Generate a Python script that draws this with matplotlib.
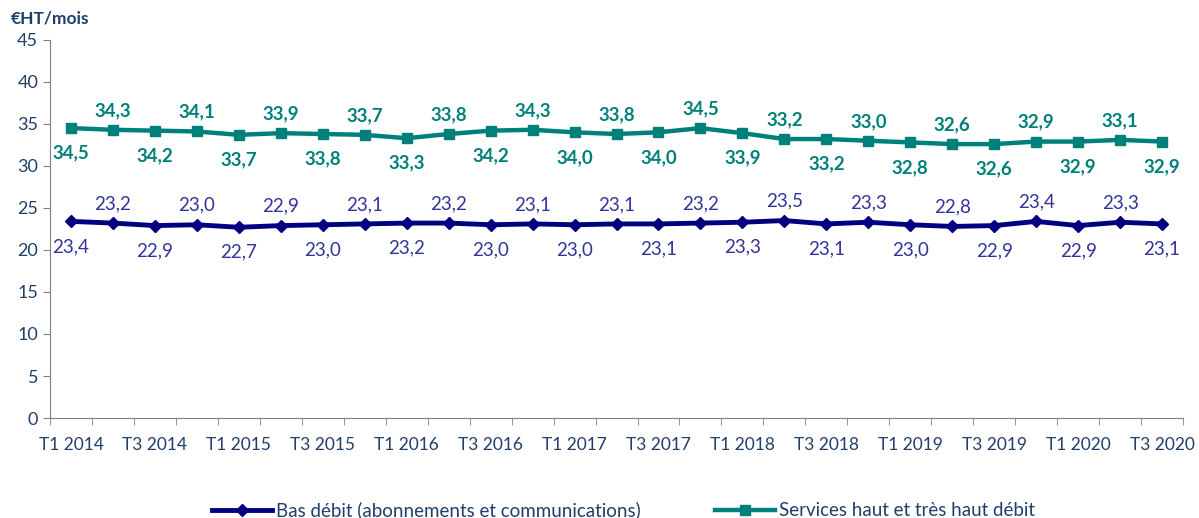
import matplotlib
matplotlib.use("Agg")
import matplotlib.pyplot as plt
import numpy as np

quarters = [f"T{q} {y}" for y in range(2014, 2021) for q in (1, 2, 3, 4)][:27]

bas_debit = [23.4, 23.2, 22.9, 23.0, 22.7, 22.9, 23.0, 23.1, 23.2, 23.2, 23.0, 23.1, 23.0, 23.1,
             23.1, 23.2, 23.3, 23.5, 23.1, 23.3, 23.0, 22.8, 22.9, 23.4, 22.9, 23.3, 23.1]
haut_debit = [34.5, 34.3, 34.2, 34.1, 33.7, 33.9, 33.8, 33.7, 33.3, 33.8, 34.2, 34.3, 34.0, 33.8,
              34.0, 34.5, 33.9, 33.2, 33.2, 33.0, 32.8, 32.6, 32.6, 32.9, 32.9, 33.1, 32.9]

NAVY = "#000080"
NAVY_TXT = "#33339A"
TEAL = "#00807A"
AXIS_TXT = "#1F3F6B"

plt.rcParams["font.family"] = ["Lato", "DejaVu Sans"]

fig = plt.figure(figsize=(11.99, 5.18), dpi=100)
ax = fig.add_axes([0.0417, 0.193, 0.945, 0.730])

x = np.arange(len(quarters))
ax.plot(x, bas_debit, color=NAVY, lw=3.5, marker="D", ms=6,
        label="Bas débit (abonnements et communications)")
ax.plot(x, haut_debit, color=TEAL, lw=3.2, marker="s", ms=7.5,
        label="Services haut et très haut débit")

def fmt(v):
    return f"{v:.1f}".replace(".", ",")

for i, (b, h) in enumerate(zip(bas_debit, haut_debit)):
    off = 14 if i % 2 else -18
    ax.annotate(fmt(h), (i, h), xytext=(0, off), textcoords="offset points",
                ha="center", va="center", color=TEAL, fontsize=13.5, fontweight="bold")
    ax.annotate(fmt(b), (i, b), xytext=(0, off), textcoords="offset points",
                ha="center", va="center", color=NAVY_TXT, fontsize=13.5)

ax.set_xlim(-0.5, len(quarters) - 0.5)
ax.set_ylim(0, 45)
ax.set_yticks(range(0, 46, 5))
ax.set_xticks(x[::2])
ax.set_xticklabels(quarters[::2])
ax.set_xticks(np.arange(-0.5, len(quarters), 1), minor=True)
ax.tick_params(axis="x", which="major", length=0, pad=14, labelsize=12.5, labelcolor=AXIS_TXT)
ax.tick_params(axis="x", which="minor", length=5, color="#808080")
ax.tick_params(axis="y", length=5, color="#808080", labelsize=13, labelcolor=AXIS_TXT)

for s in ("top", "right"):
    ax.spines[s].set_visible(False)
for s in ("left", "bottom"):
    ax.spines[s].set_color("#808080")

fig.text(0.009, 0.965, "€HT/mois", color=AXIS_TXT, fontsize=12.5, fontweight="bold",
         ha="left", va="center")

fig.legend(loc="lower center", bbox_to_anchor=(0.52, -0.035), ncol=2, frameon=False,
           fontsize=13.5, labelcolor=AXIS_TXT, handlelength=3.2, columnspacing=4,
           handletextpad=0.2)

fig.savefig("out.png", dpi=100)
